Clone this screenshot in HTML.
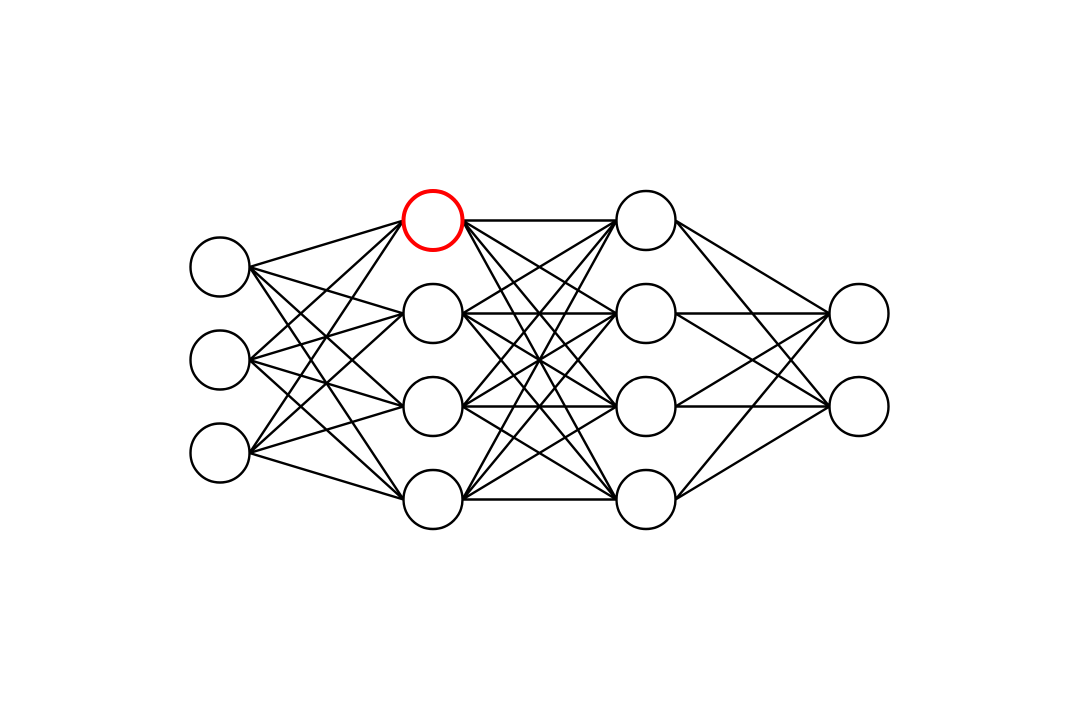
<!DOCTYPE html>
<html><head><meta charset="utf-8"><style>html,body{margin:0;padding:0;background:#fff}svg{display:block}</style></head>
<body>
<svg id="chart" width="1080" height="720" viewBox="0 0 1080 720" xmlns="http://www.w3.org/2000/svg">
<g id="edges"></g>
<g id="nodes"></g>
</svg>
<script>
const layerSizes = [3, 4, 4, 2];
const highlighted = [[1, 0]];
const layerX = [220, 433, 646, 859];
const centerY = 360, spacing = 93, r = 29.5;
const NS = 'http://www.w3.org/2000/svg';
function nodeY(n, i) { return centerY + (i - (n - 1) / 2) * spacing; }
const eg = document.getElementById('edges');
const ng = document.getElementById('nodes');
for (let l = 0; l < layerSizes.length - 1; l++) {
  for (let i = 0; i < layerSizes[l]; i++) {
    for (let j = 0; j < layerSizes[l + 1]; j++) {
      const ln = document.createElementNS(NS, 'line');
      ln.setAttribute('x1', layerX[l] + r);
      ln.setAttribute('y1', nodeY(layerSizes[l], i));
      ln.setAttribute('x2', layerX[l + 1] - r);
      ln.setAttribute('y2', nodeY(layerSizes[l + 1], j));
      ln.setAttribute('stroke', '#000');
      ln.setAttribute('stroke-width', '2.4');
      
      
      eg.appendChild(ln);
    }
  }
}
for (let l = 0; l < layerSizes.length; l++) {
  for (let i = 0; i < layerSizes[l]; i++) {
    const hi = highlighted.some(h => h[0] === l && h[1] === i);
    const c = document.createElementNS(NS, 'circle');
    c.setAttribute('cx', layerX[l]);
    c.setAttribute('cy', nodeY(layerSizes[l], i));
    c.setAttribute('r', r);
    c.setAttribute('fill', '#fff');
    c.setAttribute('stroke', hi ? '#ff0000' : '#000');
    c.setAttribute('stroke-width', hi ? '4' : '2.4');
    
    
    ng.appendChild(c);
  }
}
</script>
</body></html>
